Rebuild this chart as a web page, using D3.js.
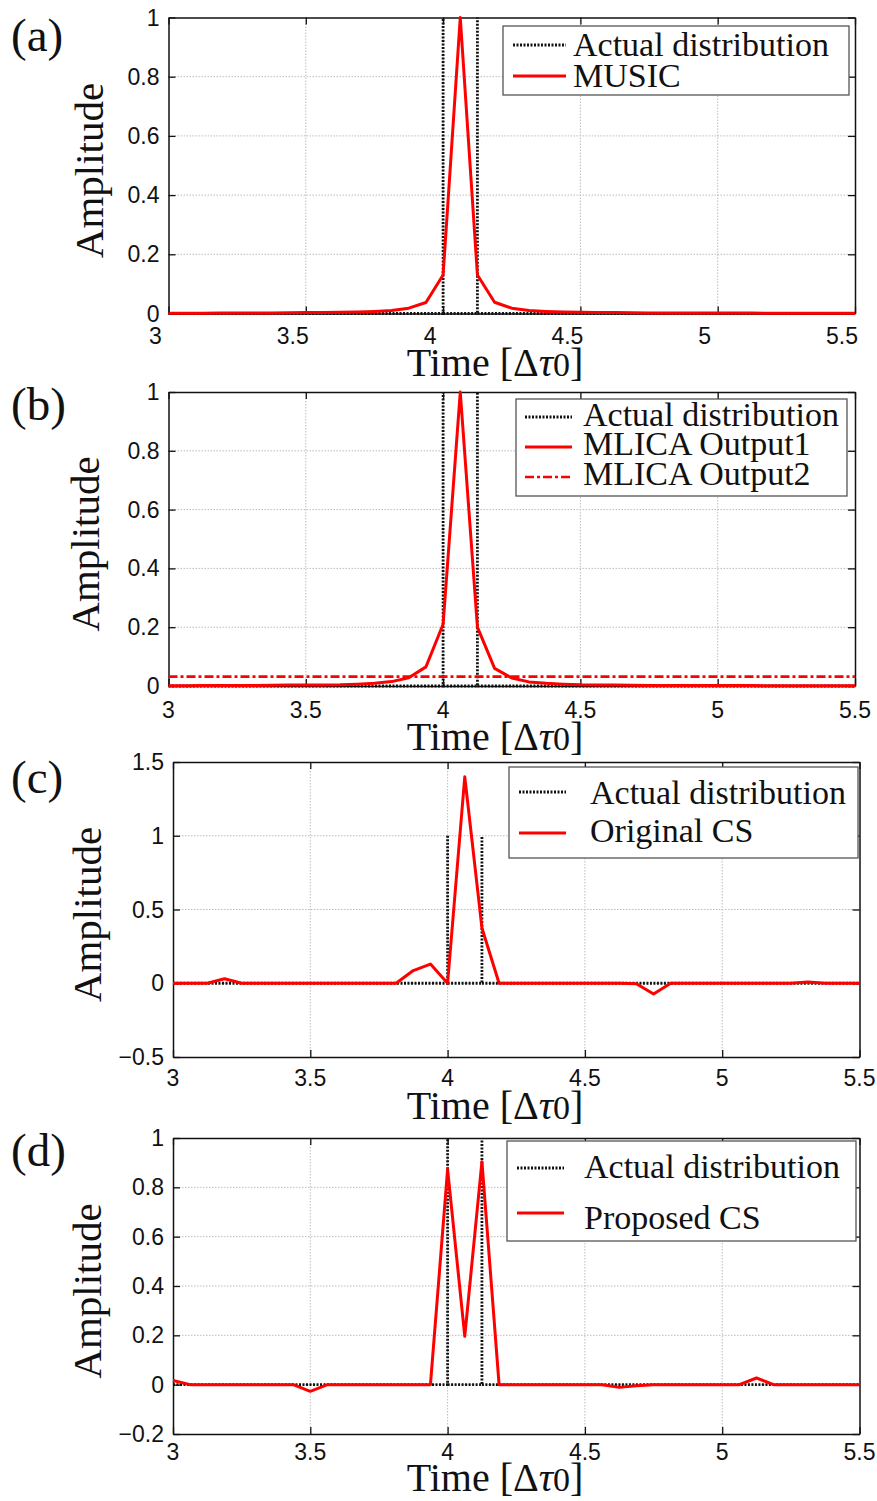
<!DOCTYPE html>
<html>
<head>
<meta charset="utf-8">
<script src="https://cdn.jsdelivr.net/npm/d3@7"></script>
<style>
  body { margin: 0; background: #fff; }
  svg { display: block; }
</style>
</head>
<body>
<div id="chart"></div>
<script>
// sample times (step 1/16 of the unit)
var time = [3, 3.0625, 3.125, 3.1875, 3.25, 3.3125, 3.375, 3.4375, 3.5, 3.5625,
  3.625, 3.6875, 3.75, 3.8125, 3.875, 3.9375, 4, 4.0625, 4.125, 4.1875,
  4.25, 4.3125, 4.375, 4.4375, 4.5, 4.5625, 4.625, 4.6875, 4.75, 4.8125,
  4.875, 4.9375, 5, 5.0625, 5.125, 5.1875, 5.25, 5.3125, 5.375, 5.4375, 5.5]

// actual distribution (two unit spikes), null = pen up
var actualTime = [3, 4, 4, null, 4, 4.125, 4.125, null, 4.125, 5.5]
var actualAmp = [0, 0, 1, null, 0, 0, 1, null, 0, 0]

// (a) MUSIC
var music = [0.001, 0.001, 0.001, 0.0015, 0.0015, 0.002, 0.002, 0.0025, 0.003, 0.0035,
  0.004, 0.005, 0.007, 0.01, 0.018, 0.037, 0.13, 1.0, 0.13, 0.038,
  0.018, 0.01, 0.007, 0.005, 0.004, 0.0035, 0.003, 0.0025, 0.002, 0.002,
  0.0018, 0.0016, 0.0015, 0.0014, 0.0013, 0.0012, 0.0011, 0.001, 0.001, 0.001, 0.001]

// (b) MLICA
var mlica1 = [0.001, 0.001, 0.0015, 0.0015, 0.002, 0.002, 0.0025, 0.003, 0.003, 0.0035,
  0.004, 0.006, 0.009, 0.015, 0.028, 0.065, 0.21, 1.0, 0.2, 0.06,
  0.027, 0.014, 0.009, 0.006, 0.004, 0.0035, 0.003, 0.0025, 0.002, 0.002,
  0.0018, 0.0016, 0.0015, 0.0014, 0.0013, 0.0012, 0.0011, 0.001, 0.001, 0.001, 0.001]
var mlica2 = [0.032, 0.032, 0.032, 0.032, 0.032, 0.032, 0.032, 0.032, 0.032, 0.032,
  0.032, 0.032, 0.032, 0.032, 0.032, 0.032, 0.032, 0.032, 0.032, 0.032,
  0.032, 0.032, 0.032, 0.032, 0.032, 0.032, 0.032, 0.032, 0.032, 0.032,
  0.032, 0.032, 0.032, 0.032, 0.032, 0.032, 0.032, 0.032, 0.032, 0.032, 0.032]

// (c) original CS
var originalCS = [0, 0, 0, 0.03, 0, 0, 0, 0, 0, 0,
  0, 0, 0, 0, 0.086, 0.13, 0, 1.40, 0.375, 0,
  0, 0, 0, 0, 0, 0, 0, -0.003, -0.073, 0,
  0, 0, 0, 0, 0, 0, 0, 0.008, 0, 0, 0]

// (d) proposed CS
var proposedCS = [0.017, 0, 0, 0, 0, 0, 0, 0, -0.027, 0,
  0, 0, 0, 0, 0, 0, 0.873, 0.196, 0.904, 0,
  0, 0, 0, 0, 0, 0, -0.011, -0.004, 0, 0,
  0, 0, 0, 0, 0.027, 0, 0, 0, 0, 0, 0]

var xTicks = [3, 3.5, 4, 4.5, 5, 5.5]
var xTickLabels = ["3", "3.5", "4", "4.5", "5", "5.5"]
var yTicksAB = [0, 0.2, 0.4, 0.6, 0.8, 1]
var yLabelsAB = ["0", "0.2", "0.4", "0.6", "0.8", "1"]
var yTicksC = [-0.5, 0, 0.5, 1, 1.5]
var yLabelsC = ["\u22120.5", "0", "0.5", "1", "1.5"]
var yTicksD = [-0.2, 0, 0.2, 0.4, 0.6, 0.8, 1]
var yLabelsD = ["\u22120.2", "0", "0.2", "0.4", "0.6", "0.8", "1"]

var serif = "'Liberation Serif', 'Times New Roman', Times, serif"
var sans = "'Liberation Sans', Arial, Helvetica, sans-serif"

var dotted = {color: "#111", dash: "2,1.5", width: 2.8}
var solidRed = {color: "#ff0000", dash: null, width: 3}
var dashDotRed = {color: "#ff0000", dash: "9,3,3,3", width: 2.6}

var actual = {name: "Actual distribution", x: actualTime, y: actualAmp, style: dotted}

var panels = [
  {tag: "(a)", box: [168.5, 855, 17.5, 313.5], yDomain: [0, 1], yTicks: yTicksAB, yLabels: yLabelsAB,
   xLabelDx: -13, xLabelY: 344, tagY: 51, ampX: 103, titleY: 376,
   series: [actual, {name: "MUSIC", x: time, y: music, style: solidRed}],
   legend: {box: [503, 26, 849, 95], lineX: [513, 566], textX: 573, rows: [45, 76], base: [56, 87]}},
  {tag: "(b)", box: [168.5, 855, 392, 686], yDomain: [0, 1], yTicks: yTicksAB, yLabels: yLabelsAB,
   xLabelDx: 0, xLabelY: 718, tagY: 420, ampX: 99, titleY: 750,
   series: [actual, {name: "MLICA Output1", x: time, y: mlica1, style: solidRed},
     {name: "MLICA Output2", x: time, y: mlica2, style: dashDotRed}],
   legend: {box: [516, 399, 847, 496], lineX: [525, 572], textX: 583, rows: [417, 447, 477], base: [426, 455, 485]}},
  {tag: "(c)", box: [173, 859.5, 762, 1057], yDomain: [-0.5, 1.5], yTicks: yTicksC, yLabels: yLabelsC,
   xLabelDx: 0, xLabelY: 1086, tagY: 793, ampX: 101, titleY: 1119,
   series: [actual, {name: "Original CS", x: time, y: originalCS, style: solidRed}],
   legend: {box: [509, 767, 858, 858], lineX: [519, 566], textX: 590, rows: [792, 833], base: [804, 842]}},
  {tag: "(d)", box: [173, 859.5, 1138, 1434], yDomain: [-0.2, 1], yTicks: yTicksD, yLabels: yLabelsD,
   xLabelDx: 0, xLabelY: 1460, tagY: 1166, ampX: 101, titleY: 1491,
   series: [actual, {name: "Proposed CS", x: time, y: proposedCS, style: solidRed}],
   legend: {box: [507, 1141, 856, 1241], lineX: [517, 564], textX: 584, rows: [1168, 1213], base: [1178, 1229]}}
]

var svg = d3.select("#chart").append("svg")
  .attr("width", 877)
  .attr("height", 1501)

panels.forEach(function(p) {
  var g = svg.append("g")
  var x = d3.scaleLinear().domain([3, 5.5]).range([p.box[0], p.box[1]])
  var y = d3.scaleLinear().domain(p.yDomain).range([p.box[3], p.box[2]])

  // grid
  g.selectAll(".vg").data(xTicks.slice(1, -1)).enter().append("line")
    .attr("x1", function(d) { return x(d) }).attr("x2", function(d) { return x(d) })
    .attr("y1", p.box[2]).attr("y2", p.box[3])
    .attr("stroke", "#bdbdbd").attr("stroke-width", 1).attr("stroke-dasharray", "1.5,1.5")
  g.selectAll(".hg").data(p.yTicks.slice(1, -1)).enter().append("line")
    .attr("x1", p.box[0]).attr("x2", p.box[1])
    .attr("y1", function(d) { return y(d) }).attr("y2", function(d) { return y(d) })
    .attr("stroke", "#bdbdbd").attr("stroke-width", 1).attr("stroke-dasharray", "1.5,1.5")

  // frame with inward ticks on every side
  var tl = 7
  g.append("g").attr("transform", "translate(0," + p.box[3] + ")")
    .call(d3.axisTop(x).tickValues(xTicks).tickSize(tl).tickFormat("").tickSizeOuter(0))
  g.append("g").attr("transform", "translate(0," + p.box[2] + ")")
    .call(d3.axisBottom(x).tickValues(xTicks).tickSize(tl).tickFormat("").tickSizeOuter(0))
  g.append("g").attr("transform", "translate(" + p.box[0] + ",0)")
    .call(d3.axisRight(y).tickValues(p.yTicks).tickSize(tl).tickFormat("").tickSizeOuter(0))
  g.append("g").attr("transform", "translate(" + p.box[1] + ",0)")
    .call(d3.axisLeft(y).tickValues(p.yTicks).tickSize(tl).tickFormat("").tickSizeOuter(0))
  g.selectAll(".domain").attr("stroke", "#111").attr("stroke-width", 1.5)
  g.selectAll(".tick line").attr("stroke", "#111").attr("stroke-width", 1.3)

  // tick labels
  g.selectAll(".xl").data(xTicks).enter().append("text")
    .attr("x", function(d) { return x(d) + p.xLabelDx })
    .attr("y", p.xLabelY)
    .attr("text-anchor", "middle")
    .style("font-family", sans).style("font-size", "23px").attr("fill", "#111")
    .text(function(d, i) { return xTickLabels[i] })
  g.selectAll(".yl").data(p.yTicks).enter().append("text")
    .attr("x", p.box[0] - 9)
    .attr("y", function(d) { return y(d) + 8 })
    .attr("text-anchor", "end")
    .style("font-family", sans).style("font-size", "23px").attr("fill", "#111")
    .text(function(d, i) { return p.yLabels[i] })

  // data
  p.series.forEach(function(s) {
    var pts = s.x.map(function(t, i) { return [t, s.y[i]] })
    var line = d3.line()
      .defined(function(d) { return d[0] !== null && d[1] !== null })
      .x(function(d) { return x(d[0]) })
      .y(function(d) { return y(d[1]) })
    g.append("path")
      .attr("d", line(pts))
      .attr("fill", "none")
      .attr("stroke", s.style.color)
      .attr("stroke-width", s.style.width)
      .attr("stroke-dasharray", s.style.dash)
      .attr("stroke-linejoin", "round")
  })

  // legend
  var L = p.legend
  g.append("rect")
    .attr("x", L.box[0]).attr("y", L.box[1])
    .attr("width", L.box[2] - L.box[0]).attr("height", L.box[3] - L.box[1])
    .attr("fill", "#fff").attr("stroke", "#555").attr("stroke-width", 1.3)
  p.series.forEach(function(s, i) {
    g.append("line")
      .attr("x1", L.lineX[0]).attr("x2", L.lineX[1])
      .attr("y1", L.rows[i]).attr("y2", L.rows[i])
      .attr("stroke", s.style.color)
      .attr("stroke-width", s.style.width)
      .attr("stroke-dasharray", s.style.dash)
    g.append("text")
      .attr("x", L.textX).attr("y", L.base[i])
      .style("font-family", serif).style("font-size", "34px").attr("fill", "#111")
      .text(s.name)
  })

  // panel tag, axis titles
  g.append("text")
    .attr("x", 11).attr("y", p.tagY)
    .style("font-family", serif).style("font-size", "47px").attr("fill", "#111")
    .text(p.tag)
  g.append("text")
    .attr("transform", "translate(" + p.ampX + "," + ((p.box[2] + p.box[3]) / 2 + 5) + ") rotate(-90)")
    .attr("text-anchor", "middle")
    .style("font-family", serif).style("font-size", "41px").attr("fill", "#111")
    .text("Amplitude")
  var title = g.append("text")
    .attr("x", 495).attr("y", p.titleY)
    .attr("text-anchor", "middle")
    .style("font-family", serif).style("font-size", "40px").attr("fill", "#111")
  title.append("tspan").text("Time [\u0394")
  title.append("tspan").style("font-style", "italic").text("\u03c4")
  title.append("tspan").style("font-size", "34px").text("0")
  title.append("tspan").text("]")
})
</script>
</body>
</html>
